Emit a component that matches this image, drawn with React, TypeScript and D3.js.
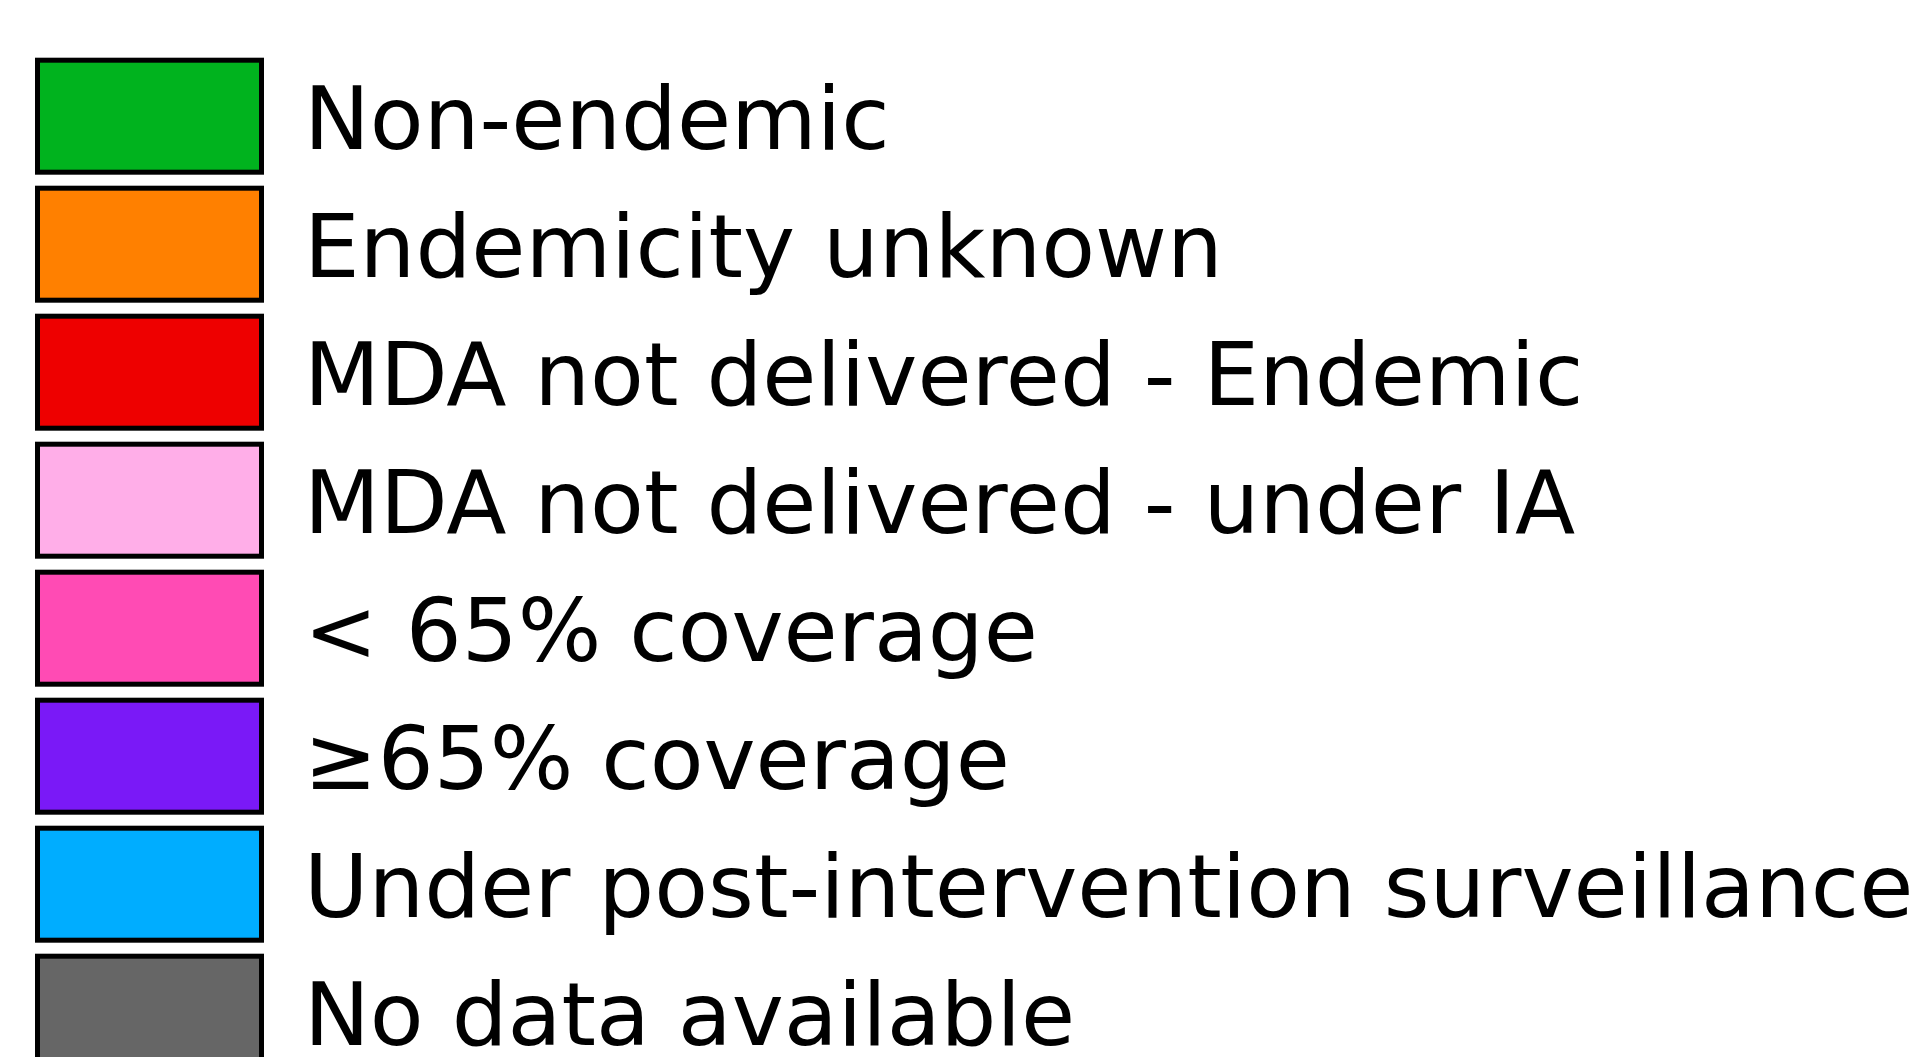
import React from "react";
import * as d3 from "d3";

const categories = [
  "Non-endemic",
  "Endemicity unknown",
  "MDA not delivered - Endemic",
  "MDA not delivered - under IA",
  "< 65% coverage",
  "≥65% coverage",
  "Under post-intervention surveillance",
  "No data available",
];

const colours = [
  "#00b31e",
  "#ff8000",
  "#ee0000",
  "#ffaee8",
  "#ff4bb4",
  "#7a19f7",
  "#00adff",
  "#666666",
];

const width = 1931;
const height = 1057;

export default function App() {
  const rowStep = 128;
  const gap = 11;
  const top = 57.7;
  // band step works out to rowStep: range = n*step - gap
  const y = d3
    .scaleBand<string>()
    .domain(categories)
    .range([top, top + rowStep * categories.length - gap])
    .paddingInner(gap / rowStep)
    .paddingOuter(0)
    .align(0);
  const colour = d3.scaleOrdinal<string, string>().domain(categories).range(colours);

  const sw = 5;
  const boxX = 35;
  const boxW = 229;

  return (
    <svg
      width={width}
      height={height}
      style={{ position: "fixed", left: 0, top: 0, background: "#fff" }}
    >
      {categories.map((c) => {
        const y0 = y(c) as number;
        return (
          <g key={c}>
            <rect
              x={boxX + sw / 2}
              y={y0 + sw / 2}
              width={boxW - sw}
              height={y.bandwidth() - sw}
              fill={colour(c)}
              stroke="#000"
              strokeWidth={sw}
            />
            <text
              x={304}
              y={y0 + 91.3}
              fontFamily="DejaVu Sans"
              fontSize={88}
              fill="#000"
            >
              {c}
            </text>
          </g>
        );
      })}
    </svg>
  );
}
